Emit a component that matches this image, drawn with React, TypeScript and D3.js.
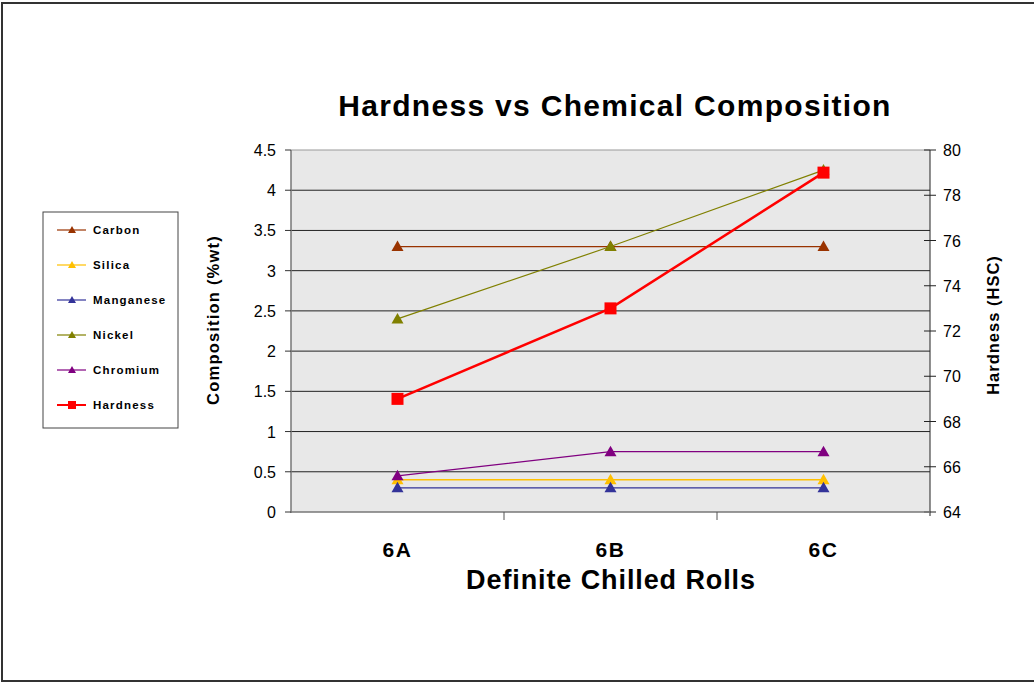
import React from "react";
import * as d3 from "d3";

const categories = ["6A", "6B", "6C"];
const carbon = [3.3, 3.3, 3.3];
const silica = [0.4, 0.4, 0.4];
const manganese = [0.3, 0.3, 0.3];
const nickel = [2.4, 3.3, 4.25];
const chromium = [0.45, 0.75, 0.75];
const hardness = [69, 73, 79];
const leftTicks = [0, 0.5, 1, 1.5, 2, 2.5, 3, 3.5, 4, 4.5];
const rightTicks = [64, 66, 68, 70, 72, 74, 76, 78, 80];

const compSeries = [
  { name: "Carbon", values: carbon, color: "#993300", width: 1.2 },
  { name: "Silica", values: silica, color: "#FFC000", width: 1.5 },
  { name: "Manganese", values: manganese, color: "#333399", width: 1.2 },
  { name: "Nickel", values: nickel, color: "#808000", width: 1.2 },
  { name: "Chromium", values: chromium, color: "#800080", width: 1.2 },
];

export default function App() {
  const L = 291, R = 930, T = 150, B = 512;
  const x = d3.scaleBand<string>().domain(categories).range([L, R]);
  const cx = (c: string) => (x(c) as number) + x.bandwidth() / 2;
  const yL = d3.scaleLinear().domain([0, 4.5]).range([B, T]);
  const yR = d3.scaleLinear().domain([64, 80]).range([B, T]);
  const font = "'Liberation Sans', Arial, sans-serif";
  const tri = (px: number, py: number, s = 6) =>
    `M${px},${py - s}L${px + s},${py + s * 0.75}L${px - s},${py + s * 0.75}Z`;
  const lineL = d3.line<number>().x((_, i) => cx(categories[i])).y((v) => yL(v));
  const lineR = d3.line<number>().x((_, i) => cx(categories[i])).y((v) => yR(v));
  const legendY = [230, 265, 300, 335, 370, 405];

  return (
    <svg width={1034} height={683} style={{ position: "absolute", left: 0, top: 0 }} fontFamily={font}>
      <rect x={0} y={0} width={1034} height={683} fill="#fff" />
      <rect x={2} y={3} width={1040} height={678} fill="none" stroke="#333" strokeWidth={2} />
      <text x={615} y={116} textAnchor="middle" fontSize={30} fontWeight="bold" letterSpacing={1.3}>
        Hardness vs Chemical Composition
      </text>
      <rect x={L} y={T} width={R - L} height={B - T} fill="#E8E8E8" />
      <line x1={L} x2={R} y1={T} y2={T} stroke="#999" />
      {leftTicks.slice(1, -1).map((t) => (
        <line key={t} x1={L} x2={R} y1={yL(t)} y2={yL(t)} stroke="#222" strokeWidth={1} />
      ))}
      {/* left axis */}
      <line x1={L} x2={L} y1={T} y2={B + 1} stroke="#777" strokeWidth={1.5} />
      {leftTicks.map((t) => (
        <g key={t}>
          <line x1={L - 6} x2={L} y1={yL(t)} y2={yL(t)} stroke="#333" />
          <text x={276} y={yL(t) + 6} textAnchor="end" fontSize={16}>
            {t}
          </text>
        </g>
      ))}
      {/* right axis */}
      <line x1={R} x2={R} y1={T} y2={B + 4} stroke="#222" strokeWidth={1} />
      {rightTicks.map((t) => (
        <g key={t}>
          <line x1={R - 6} x2={R + 6} y1={yR(t)} y2={yR(t)} stroke="#222" />
          <text x={943} y={yR(t) + 6} textAnchor="start" fontSize={16}>
            {t}
          </text>
        </g>
      ))}
      {/* x axis */}
      <line x1={L} x2={R} y1={B} y2={B} stroke="#777" strokeWidth={1.5} />
      {categories.map((c, i) => (
        <g key={c}>
          {i > 0 && <line x1={x(c)} x2={x(c)} y1={B} y2={B + 8} stroke="#555" />}
          <text x={cx(c)} y={557} textAnchor="middle" fontSize={21} fontWeight="bold" letterSpacing={1.5}>
            {c}
          </text>
        </g>
      ))}
      <text x={611} y={589} textAnchor="middle" fontSize={27} fontWeight="bold" letterSpacing={0.9}>
        Definite Chilled Rolls
      </text>
      <text transform={`translate(219,${320}) rotate(-90)`} textAnchor="middle" fontSize={16.5} fontWeight="bold" letterSpacing={1.2}>
        Composition (%wt)
      </text>
      <text transform={`translate(999,${325}) rotate(-90)`} textAnchor="middle" fontSize={16.5} fontWeight="bold" letterSpacing={1}>
        Hardness (HSC)
      </text>
      {/* series */}
      {compSeries.map((s) => (
        <g key={s.name}>
          <path d={lineL(s.values) as string} fill="none" stroke={s.color} strokeWidth={s.width} />
          {s.values.map((v, i) => (
            <path key={i} d={tri(cx(categories[i]), yL(v))} fill={s.color} />
          ))}
        </g>
      ))}
      <path d={lineR(hardness) as string} fill="none" stroke="#FF0000" strokeWidth={2.5} />
      {hardness.map((v, i) => (
        <rect key={i} x={cx(categories[i]) - 6} y={yR(v) - 6} width={12} height={12} fill="#FF0000" />
      ))}
      {/* legend */}
      <rect x={43} y={212} width={135} height={216} fill="#fff" stroke="#444" strokeWidth={1} />
      {compSeries.map((s, i) => (
        <g key={s.name}>
          <line x1={57} x2={86} y1={legendY[i]} y2={legendY[i]} stroke={s.color} strokeWidth={1.2} />
          <path d={tri(72, legendY[i], 4)} fill={s.color} />
          <text x={93} y={legendY[i] + 4} fontSize={11.5} fontWeight="bold" letterSpacing={1.2}>
            {s.name}
          </text>
        </g>
      ))}
      <line x1={57} x2={86} y1={legendY[5]} y2={legendY[5]} stroke="#FF0000" strokeWidth={2} />
      <rect x={68} y={legendY[5] - 4} width={8} height={8} fill="#FF0000" />
      <text x={93} y={legendY[5] + 4} fontSize={11.5} fontWeight="bold" letterSpacing={1.2}>
        Hardness
      </text>
    </svg>
  );
}
